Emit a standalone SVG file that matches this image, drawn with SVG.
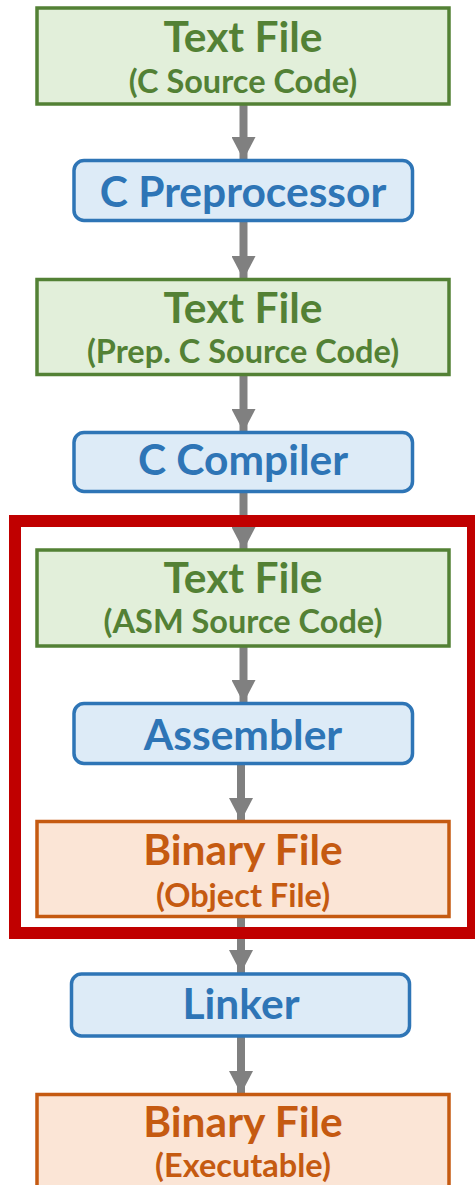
<svg xmlns="http://www.w3.org/2000/svg" width="475" height="1185" viewBox="0 0 475 1185">
<style>
text{font-family:Lato,"Liberation Sans",sans-serif;font-weight:bold;text-anchor:middle}
.t{font-size:42.5px}
.s{font-size:32.5px}
.g rect{fill:#E2EFDA;stroke:#538135;stroke-width:3.5}
.g text{fill:#538135}
.b rect{fill:#DDEBF7;stroke:#2E75B6;stroke-width:3.5}
.b text{fill:#2E75B6}
.o rect{fill:#FBE5D6;stroke:#C55A11;stroke-width:3.5}
.o text{fill:#C55A11}
.c line{stroke:#808080;stroke-width:8;marker-end:url(#ah)}
</style>
<defs>
<marker id="ah" markerUnits="userSpaceOnUse" markerWidth="23" markerHeight="24" refX="23" refY="12" orient="auto">
<path d="M0,0 L23,12 L0,24 z" fill="#808080"/>
</marker>
</defs>
<rect width="475" height="1185" fill="#FFFFFF"/>
<g id="connectors" class="c">
<line x1="243.5" y1="104" x2="243.5" y2="160"/>
<line x1="243.5" y1="221" x2="243.5" y2="279"/>
<line x1="243.5" y1="375" x2="243.5" y2="432"/>
<line x1="243.5" y1="492" x2="243.5" y2="550"/>
<line x1="243.5" y1="646" x2="243.5" y2="703"/>
<line x1="241" y1="764" x2="241" y2="821"/>
<line x1="241" y1="917" x2="241" y2="973"/>
<line x1="241" y1="1036" x2="241" y2="1094"/>
</g>
<g id="n1" class="g">
<rect x="37" y="8" width="412" height="96"/>
<text class="t" x="243" y="52">Text File</text>
<text class="s" x="243" y="93">(C Source Code)</text>
</g>
<g id="n2" class="b">
<rect x="74" y="160.5" width="338.5" height="60" rx="10"/>
<text class="t" x="243" y="207">C Preprocessor</text>
</g>
<g id="n3" class="g">
<rect x="37" y="279.5" width="412" height="95"/>
<text class="t" x="243" y="323">Text File</text>
<text class="s" x="243" y="363">(Prep. C Source Code)</text>
</g>
<g id="n4" class="b">
<rect x="74" y="432.5" width="338.5" height="59" rx="10"/>
<text class="t" x="243" y="475">C Compiler</text>
</g>
<g id="n5" class="g">
<rect x="37" y="550" width="412" height="96"/>
<text class="t" x="243" y="593">Text File</text>
<text class="s" x="243" y="633">(ASM Source Code)</text>
</g>
<g id="n6" class="b">
<rect x="74" y="703.5" width="338.5" height="60" rx="10"/>
<text class="t" x="243" y="750">Assembler</text>
</g>
<g id="n7" class="o">
<rect x="37" y="821.5" width="412" height="95"/>
<text class="t" x="243" y="865">Binary File</text>
<text class="s" x="243" y="907">(Object File)</text>
</g>
<g id="n8" class="b">
<rect x="71.5" y="974" width="338" height="62" rx="10"/>
<text class="t" x="241" y="1019">Linker</text>
</g>
<g id="n9" class="o">
<rect x="37" y="1094.5" width="412" height="96"/>
<text class="t" x="243" y="1137">Binary File</text>
<text class="s" x="243" y="1177">(Executable)</text>
</g>
<g id="frame">
<rect x="15" y="521" width="458" height="412" fill="none" stroke="#C00000" stroke-width="12"/>
</g>
</svg>
